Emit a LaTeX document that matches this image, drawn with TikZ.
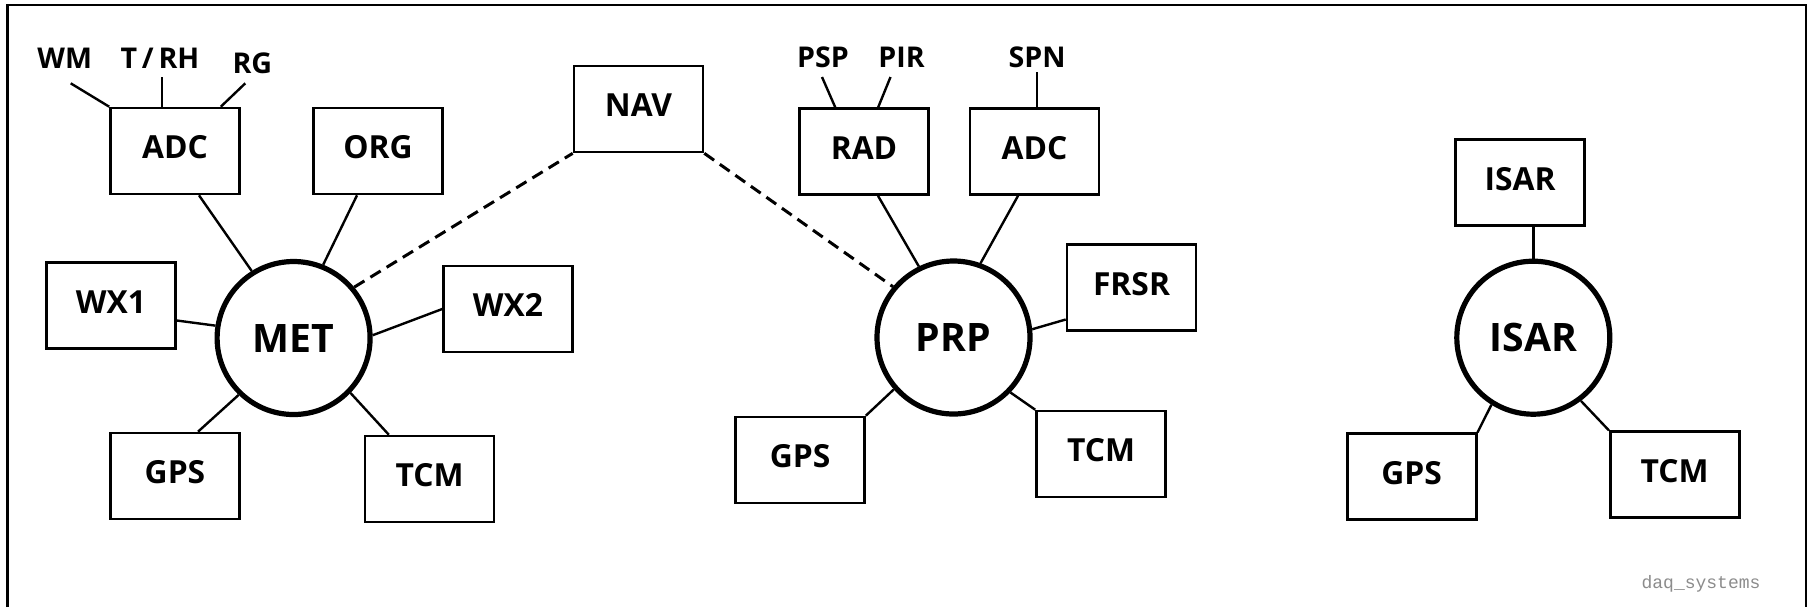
\documentclass[tikz,border=0pt]{standalone}
\usepackage{fontspec}
\setmainfont{Open Sans}
\newfontfamily\monofam{Liberation Mono}
\usetikzlibrary{calc}

\begin{document}
\begin{tikzpicture}[x=0.5pt,y=-0.5pt,
  box/.style={draw, line width=1.3pt, minimum width=64.5pt, minimum height=43pt,
    inner sep=0pt, text height=11.35pt, text depth=3.5pt,
    font=\fontsize{15.9}{18}\selectfont\bfseries},
  hub/.style={draw, circle, line width=2.6pt, minimum size=76.5pt, inner sep=0pt,
    text height=14pt, text depth=0pt,
    font=\fontsize{19.6}{22}\selectfont\bfseries},
  tag/.style={inner sep=0pt, text height=10.2pt, text depth=0pt,
    font=\fontsize{14.3}{16}\selectfont\bfseries},
  link/.style={line width=1.2pt},
  wire/.style={line width=1.5pt, dash pattern=on 6pt off 3.5pt}
]
\useasboundingbox (0,0) rectangle (1813,607);

% outer frame, open at the bottom
\draw[line width=1.3pt] (7.5,607) -- (7.5,5) -- (1806,5) -- (1806,607);

% ---------------- MET cluster ----------------
\node[hub] (met) at (293.6,338) {MET};
\node[box] (madc) at (175,151) {ADC};
\node[box] (morg) at (378,151) {ORG};
\node[box] (wx1) at (111,305.5) {WX1};
\node[box] (wx2) at (508,309) {WX2};
\node[box] (mgps) at (175,476) {GPS};
\node[box] (mtcm) at (429.6,479) {TCM};
\node[tag] (wm) at (64.7,58.3) {WM};
\node[tag] (trh) at (160,58.3) {T\,/\,RH};
\node[tag] (rg) at (252.3,63.3) {RG};
\coordinate (trhfoot) at ($(trh)+(2,19)$);

\draw[link] ($(wm)+(6,25)$) -- (madc.north west);
\draw[link] (trhfoot) -- (trhfoot |- madc.north);
\draw[link] ($(rg)+(-7,20)$) -- ($(madc.north east)+(-20,0)$);
\draw[link] ($(madc.south)+(24,0)$) -- (met.122);
\draw[link] ($(morg.south)+(-21,0)$) -- (met.68);
\draw[link] ($(wx1.east)+(0,15)$) -- (met.171);
\draw[link] (wx2.west) -- (met.2);
\draw[link] ($(mgps.north)+(23,0)$) -- (met.226);
\draw[link] ($(mtcm.north west)+(25,0)$) -- (met.316);

% ---------------- NAV ----------------
\node[box] (nav) at (638.5,109) {NAV};
\draw[wire] (met.40) -- (nav.south west);

% ---------------- PRP cluster ----------------
\node[hub] (prp) at (953.5,337.5) {PRP};
\node[box] (rad) at (864,151.5) {RAD};
\node[box] (padc) at (1034.5,151.5) {ADC};
\node[box] (frsr) at (1131.5,287.5) {FRSR};
\node[box] (pgps) at (800,460) {GPS};
\node[box] (ptcm) at (1101,454) {TCM};
\node[tag] (psp) at (823,57) {PSP};
\node[tag] (pir) at (901.5,57) {PIR};
\node[tag] (spn) at (1037,57) {SPN};

\draw[link] ($(psp)+(-1,20)$) -- ($(rad.north west)+(37,0)$);
\draw[link] ($(pir)+(-11,20)$) -- ($(rad.north west)+(80,0)$);
\draw[link] ($(spn)+(0,15)$) -- (spn |- padc.north);
\draw[wire] (nav.south east) -- (prp.140);
\draw[link] ($(rad.south)+(14,0)$) -- (prp.116);
\draw[link] ($(padc.south)+(-16.5,0)$) -- (prp.70);
\draw[link] ($(frsr.west)+(0,32)$) -- (prp.6);
\draw[link] (pgps.north east) -- (prp.221);
\draw[link] (ptcm.north west) -- (prp.316);

% ---------------- ISAR cluster ----------------
\node[hub] (isar) at (1533.3,337.7) {ISAR};
\node[box] (ibox) at (1520,182.7) {ISAR};
\node[box] (igps) at (1411.7,476.7) {GPS};
\node[box] (itcm) at (1674.7,474.7) {TCM};

\draw[link] (isar.north) -- (isar.north |- ibox.south);
\draw[link] (igps.north east) -- (isar.238);
\draw[link] (itcm.north west) -- (isar.307);

% caption
\node[inner sep=0pt, text=black!45, font=\monofam\fontsize{9}{10}\selectfont] (cap) at (1701,584) {daq\_systems};
\end{tikzpicture}
\end{document}
